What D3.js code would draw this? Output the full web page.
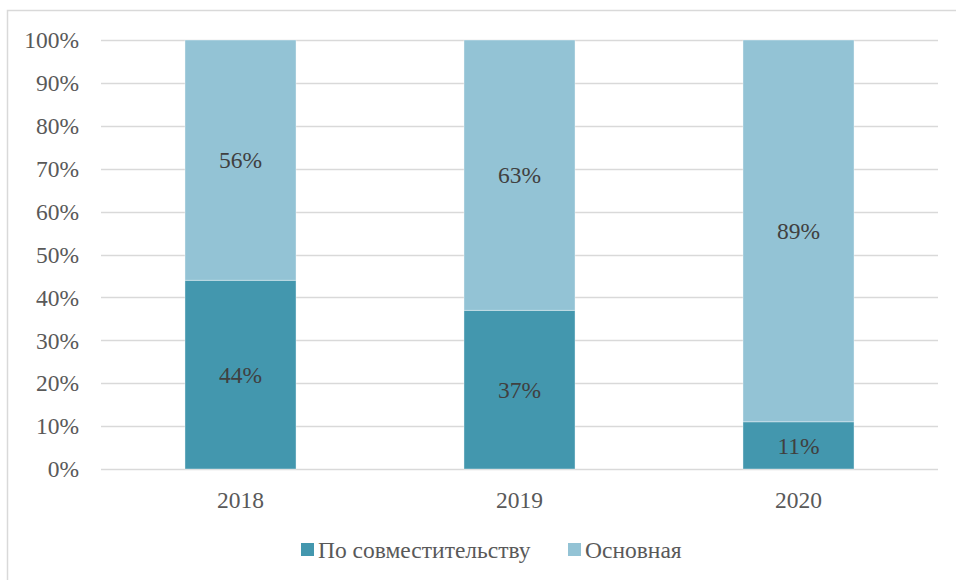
<!DOCTYPE html>
<html>
<head>
<meta charset="utf-8">
<script src="https://cdn.jsdelivr.net/npm/d3@7"></script>
<style>
  body { margin: 0; background: #fff; }
  svg { display: block; }
  svg text { font-family: "Liberation Serif", serif; }
</style>
</head>
<body>
<svg width="956" height="580"></svg>
<script>
// data
const years = ["2018", "2019", "2020"];
const seriesNames = ["По совместительству", "Основная"];
const partTime = [44, 37, 11];
const mainJob = [56, 63, 89];
const yTicks = [0, 10, 20, 30, 40, 50, 60, 70, 80, 90, 100];

const width = 956, height = 580;
const margin = {top: 40, right: 18, bottom: 111, left: 101};
const colors = ["#4397AE", "#93C3D5"];
const fontSize = 23.5;

const svg = d3.select("svg");

// outer chart frame (runs off the right and bottom edges)
svg.append("rect")
    .attr("x", 7.5).attr("y", 10.5)
    .attr("width", 960).attr("height", 600)
    .attr("fill", "none")
    .attr("stroke", "#d9d9d9")
    .attr("stroke-width", 1.5);

const x = d3.scaleBand()
    .domain(years)
    .range([margin.left, width - margin.right])
    .paddingInner(0.602)
    .paddingOuter(0.301);

const y = d3.scaleLinear()
    .domain([0, 100])
    .range([height - margin.bottom, margin.top]);

// gridlines
svg.append("g")
  .selectAll("line")
  .data(yTicks)
  .join("line")
    .attr("x1", margin.left)
    .attr("x2", width - margin.right)
    .attr("y1", d => Math.round(y(d)) + 0.5)
    .attr("y2", d => Math.round(y(d)) + 0.5)
    .attr("stroke", "#d9d9d9")
    .attr("stroke-width", 1.5);

// y tick labels
svg.append("g")
  .selectAll("text")
  .data(yTicks)
  .join("text")
    .attr("x", 79)
    .attr("y", d => y(d))
    .attr("dy", "0.35em")
    .attr("text-anchor", "end")
    .attr("font-size", fontSize)
    .attr("fill", "#595959")
    .text(d => d + "%");

// stacked series
const table = years.map((yr, i) => ({year: yr, a: partTime[i], b: mainJob[i]}));
const stacked = d3.stack().keys(["a", "b"])(table);

const layer = svg.append("g")
  .selectAll("g")
  .data(stacked)
  .join("g")
    .attr("fill", (d, i) => colors[i]);

layer.selectAll("rect")
  .data(d => d)
  .join("rect")
    .attr("x", d => x(d.data.year))
    .attr("width", x.bandwidth())
    .attr("y", d => y(d[1]))
    .attr("height", d => y(d[0]) - y(d[1]))
    .attr("stroke", "#ffffff")
    .attr("stroke-opacity", 0.5)
    .attr("stroke-width", 0.75);

layer.selectAll("text")
  .data(d => d)
  .join("text")
    .attr("x", d => x(d.data.year) + x.bandwidth() / 2)
    .attr("y", d => (y(d[0]) + y(d[1])) / 2)
    .attr("dy", "0.35em")
    .attr("text-anchor", "middle")
    .attr("font-size", fontSize)
    .attr("fill", "#404040")
    .text(d => (d[1] - d[0]) + "%");

// x labels
svg.append("g")
  .selectAll("text")
  .data(years)
  .join("text")
    .attr("x", d => x(d) + x.bandwidth() / 2)
    .attr("y", y(0) + 31)
    .attr("dy", "0.35em")
    .attr("text-anchor", "middle")
    .attr("font-size", fontSize)
    .attr("fill", "#595959")
    .text(d => d);

// legend
const legendX = [301, 568];
const legend = svg.append("g")
  .selectAll("g")
  .data(seriesNames)
  .join("g")
    .attr("transform", (d, i) => `translate(${legendX[i]},550)`);

legend.append("rect")
    .attr("x", 0).attr("y", -7)
    .attr("width", 13).attr("height", 13)
    .attr("fill", (d, i) => colors[i]);

legend.append("text")
    .attr("x", 17)
    .attr("dy", "0.35em")
    .attr("font-size", fontSize)
    .attr("fill", "#595959")
    .text(d => d);
</script>
</body>
</html>
